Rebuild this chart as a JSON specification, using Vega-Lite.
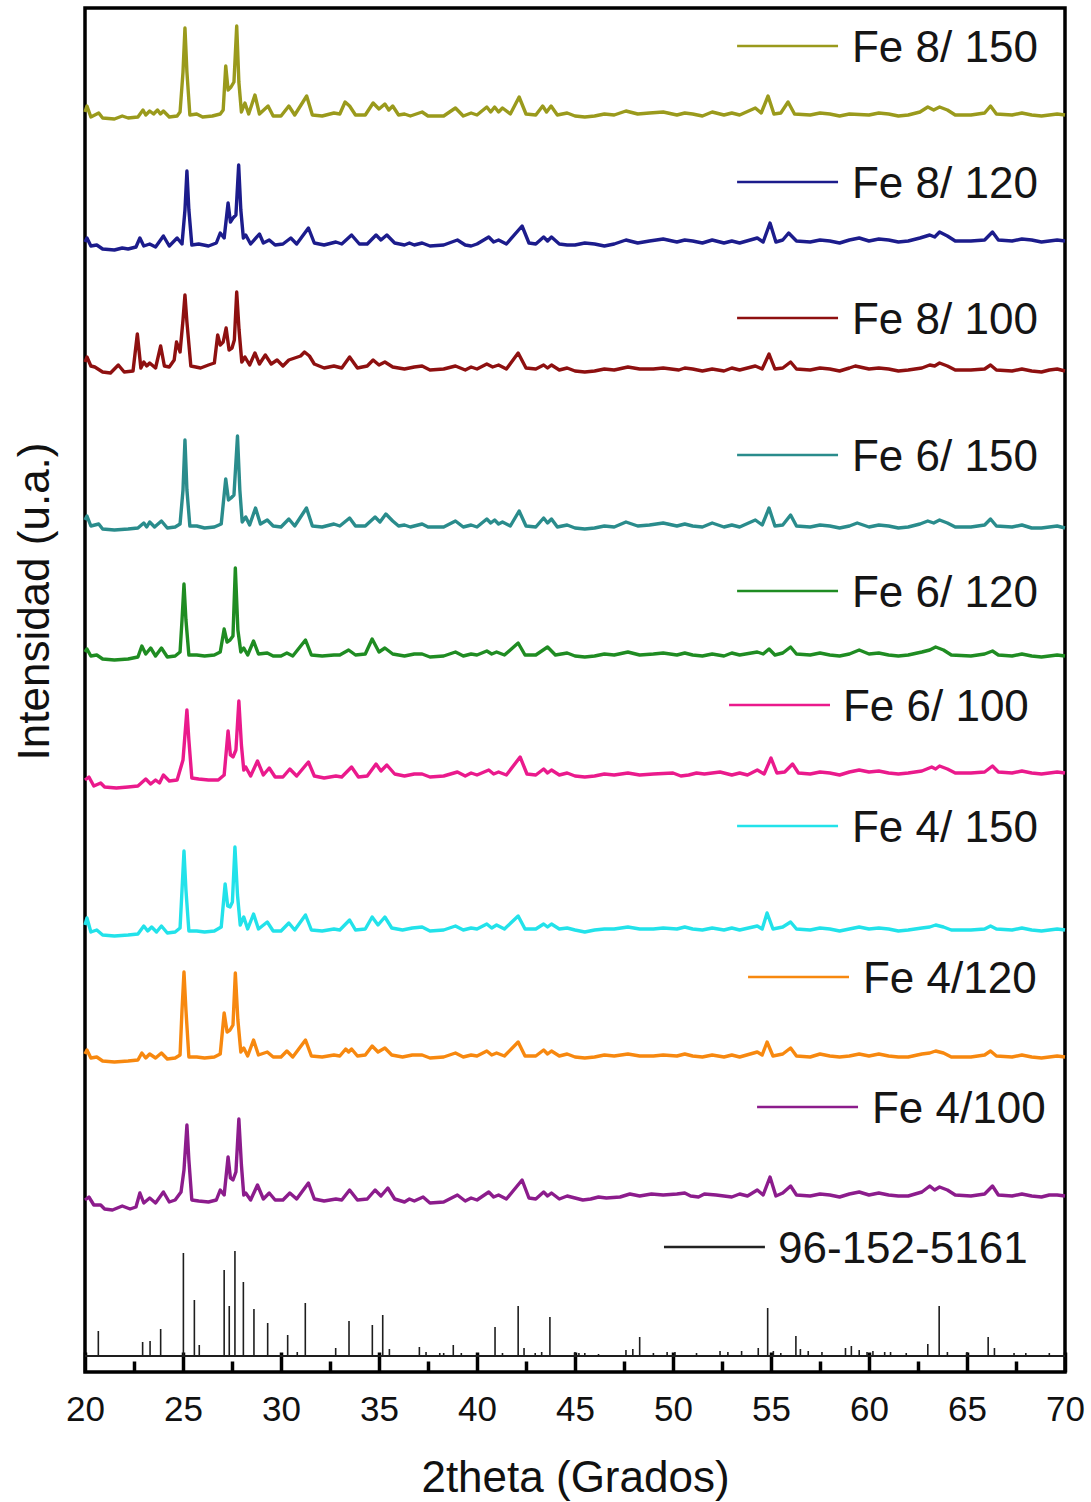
{
"$schema":"https://vega.github.io/schema/vega-lite/v6.json",
"width":980,"height":1364,
"autosize":{"type":"none"},
"padding":{"left":85,"top":8,"right":26,"bottom":130},
"background":"white",
"config":{"view":{"stroke":"#000","strokeWidth":3.5},"axis":{"grid":false,"domain":false,"labelFont":"Liberation Sans","titleFont":"Liberation Sans","tickColor":"#000","labelColor":"#111","titleColor":"#111"}},
"datasets":{
"tr":[
{"s":"a","x":20,"y":1260},{"s":"a","x":20.1,"y":1266},{"s":"a","x":20.3,"y":1255},{"s":"a","x":20.7,"y":1259},{"s":"a","x":20.9,"y":1254},{"s":"a","x":21.5,"y":1253},{"s":"a","x":22.2,"y":1254},{"s":"a","x":22.7,"y":1255},{"s":"a","x":22.96,"y":1262},{"s":"a","x":23.1,"y":1257},{"s":"a","x":23.3,"y":1261},{"s":"a","x":23.5,"y":1258},{"s":"a","x":23.7,"y":1262},{"s":"a","x":23.85,"y":1258},{"s":"a","x":24,"y":1261},{"s":"a","x":24.3,"y":1255},{"s":"a","x":24.7,"y":1256},{"s":"a","x":24.85,"y":1260},{"s":"a","x":25,"y":1300},{"s":"a","x":25.1,"y":1344},{"s":"a","x":25.2,"y":1300},{"s":"a","x":25.35,"y":1257},{"s":"a","x":25.7,"y":1258},{"s":"a","x":26,"y":1255},{"s":"a","x":26.5,"y":1256},{"s":"a","x":26.9,"y":1258},{"s":"a","x":27.05,"y":1262},{"s":"a","x":27.18,"y":1306},{"s":"a","x":27.3,"y":1282},{"s":"a","x":27.45,"y":1285},{"s":"a","x":27.6,"y":1290},{"s":"a","x":27.74,"y":1346},{"s":"a","x":27.85,"y":1290},{"s":"a","x":27.98,"y":1260},{"s":"a","x":28.16,"y":1269},{"s":"a","x":28.35,"y":1258},{"s":"a","x":28.67,"y":1277},{"s":"a","x":28.9,"y":1258},{"s":"a","x":29.34,"y":1266},{"s":"a","x":29.6,"y":1256},{"s":"a","x":30,"y":1256},{"s":"a","x":30.4,"y":1266},{"s":"a","x":30.7,"y":1257},{"s":"a","x":31.31,"y":1276},{"s":"a","x":31.6,"y":1257},{"s":"a","x":32.1,"y":1256},{"s":"a","x":32.7,"y":1259},{"s":"a","x":33,"y":1258},{"s":"a","x":33.27,"y":1270},{"s":"a","x":33.5,"y":1266},{"s":"a","x":33.8,"y":1257},{"s":"a","x":34.3,"y":1257},{"s":"a","x":34.7,"y":1269},{"s":"a","x":35,"y":1263},{"s":"a","x":35.3,"y":1268},{"s":"a","x":35.5,"y":1262},{"s":"a","x":35.7,"y":1266},{"s":"a","x":36,"y":1257},{"s":"a","x":36.6,"y":1256},{"s":"a","x":37.2,"y":1260},{"s":"a","x":37.5,"y":1256},{"s":"a","x":38.3,"y":1256},{"s":"a","x":38.9,"y":1264},{"s":"a","x":39.3,"y":1256},{"s":"a","x":40,"y":1257},{"s":"a","x":40.5,"y":1265},{"s":"a","x":40.7,"y":1260},{"s":"a","x":40.9,"y":1265},{"s":"a","x":41.1,"y":1260},{"s":"a","x":41.3,"y":1264},{"s":"a","x":41.7,"y":1258},{"s":"a","x":42.15,"y":1275},{"s":"a","x":42.5,"y":1258},{"s":"a","x":43,"y":1257},{"s":"a","x":43.35,"y":1266},{"s":"a","x":43.55,"y":1260},{"s":"a","x":43.78,"y":1266},{"s":"a","x":44.1,"y":1257},{"s":"a","x":45,"y":1256},{"s":"a","x":46,"y":1256},{"s":"a","x":47,"y":1257},{"s":"a","x":47.6,"y":1261},{"s":"a","x":48.2,"y":1258},{"s":"a","x":48.8,"y":1259},{"s":"a","x":49.5,"y":1260},{"s":"a","x":50.2,"y":1257},{"s":"a","x":51,"y":1258},{"s":"a","x":52,"y":1260},{"s":"a","x":52.6,"y":1257},{"s":"a","x":53.4,"y":1257},{"s":"a","x":54.2,"y":1264},{"s":"a","x":54.5,"y":1259},{"s":"a","x":54.85,"y":1276},{"s":"a","x":55.15,"y":1258},{"s":"a","x":55.5,"y":1259},{"s":"a","x":55.87,"y":1270},{"s":"a","x":56.2,"y":1258},{"s":"a","x":57,"y":1257},{"s":"a","x":58,"y":1258},{"s":"a","x":59,"y":1258},{"s":"a","x":60,"y":1257},{"s":"a","x":61,"y":1258},{"s":"a","x":62,"y":1257},{"s":"a","x":62.6,"y":1260},{"s":"a","x":63,"y":1265},{"s":"a","x":63.3,"y":1262},{"s":"a","x":63.6,"y":1265},{"s":"a","x":64,"y":1262},{"s":"a","x":64.4,"y":1257},{"s":"a","x":65.2,"y":1257},{"s":"a","x":65.9,"y":1259},{"s":"a","x":66.2,"y":1266},{"s":"a","x":66.5,"y":1258},{"s":"a","x":67.3,"y":1257},{"s":"a","x":68.3,"y":1257},{"s":"a","x":69.2,"y":1257},{"s":"a","x":70,"y":1257},
{"s":"a","x":44.6,"y":1259},{"s":"a","x":45.5,"y":1255},{"s":"a","x":46.5,"y":1258},{"s":"a","x":50.6,"y":1259},{"s":"a","x":51.5,"y":1256},{"s":"a","x":53,"y":1259},{"s":"a","x":57.5,"y":1259},{"s":"a","x":58.5,"y":1256},{"s":"a","x":60.5,"y":1259},{"s":"a","x":61.5,"y":1256},{"s":"a","x":67.8,"y":1259},{"s":"a","x":68.8,"y":1256},{"s":"a","x":69.6,"y":1258},{"s":"a","x":21.9,"y":1256},{"s":"a","x":36.3,"y":1258},{"s":"a","x":39.7,"y":1259},
{"s":"b","x":20,"y":1130},{"s":"b","x":20.1,"y":1134},{"s":"b","x":20.3,"y":1126},{"s":"b","x":20.6,"y":1127},{"s":"b","x":20.9,"y":1123},{"s":"b","x":21.5,"y":1122},{"s":"b","x":22.2,"y":1123},{"s":"b","x":22.6,"y":1125},{"s":"b","x":22.8,"y":1134},{"s":"b","x":23,"y":1126},{"s":"b","x":23.3,"y":1128},{"s":"b","x":23.6,"y":1125},{"s":"b","x":24,"y":1136},{"s":"b","x":24.3,"y":1126},{"s":"b","x":24.7,"y":1134},{"s":"b","x":24.95,"y":1128},{"s":"b","x":25.1,"y":1162},{"s":"b","x":25.2,"y":1201},{"s":"b","x":25.3,"y":1162},{"s":"b","x":25.45,"y":1127},{"s":"b","x":25.8,"y":1128},{"s":"b","x":26.3,"y":1126},{"s":"b","x":26.7,"y":1129},{"s":"b","x":26.9,"y":1139},{"s":"b","x":27.1,"y":1134},{"s":"b","x":27.3,"y":1169},{"s":"b","x":27.42,"y":1150},{"s":"b","x":27.55,"y":1154},{"s":"b","x":27.7,"y":1157},{"s":"b","x":27.84,"y":1207},{"s":"b","x":27.95,"y":1162},{"s":"b","x":28.08,"y":1134},{"s":"b","x":28.2,"y":1137},{"s":"b","x":28.45,"y":1128},{"s":"b","x":28.9,"y":1138},{"s":"b","x":29.1,"y":1129},{"s":"b","x":29.4,"y":1132},{"s":"b","x":29.7,"y":1127},{"s":"b","x":30.1,"y":1128},{"s":"b","x":30.5,"y":1134},{"s":"b","x":30.8,"y":1128},{"s":"b","x":31.4,"y":1144},{"s":"b","x":31.7,"y":1129},{"s":"b","x":32.2,"y":1127},{"s":"b","x":32.8,"y":1130},{"s":"b","x":33.1,"y":1128},{"s":"b","x":33.6,"y":1137},{"s":"b","x":34,"y":1128},{"s":"b","x":34.4,"y":1128},{"s":"b","x":34.85,"y":1137},{"s":"b","x":35.1,"y":1132},{"s":"b","x":35.4,"y":1137},{"s":"b","x":35.8,"y":1129},{"s":"b","x":36.3,"y":1127},{"s":"b","x":36.8,"y":1127},{"s":"b","x":37.2,"y":1129},{"s":"b","x":37.6,"y":1126},{"s":"b","x":38.3,"y":1127},{"s":"b","x":39,"y":1132},{"s":"b","x":39.4,"y":1127},{"s":"b","x":40,"y":1128},{"s":"b","x":40.6,"y":1135},{"s":"b","x":40.85,"y":1130},{"s":"b","x":41.1,"y":1132},{"s":"b","x":41.5,"y":1128},{"s":"b","x":42.3,"y":1146},{"s":"b","x":42.65,"y":1129},{"s":"b","x":43,"y":1128},{"s":"b","x":43.4,"y":1135},{"s":"b","x":43.6,"y":1131},{"s":"b","x":43.8,"y":1135},{"s":"b","x":44.2,"y":1128},{"s":"b","x":45,"y":1127},{"s":"b","x":46,"y":1128},{"s":"b","x":47,"y":1128},{"s":"b","x":47.6,"y":1132},{"s":"b","x":48.2,"y":1129},{"s":"b","x":48.8,"y":1131},{"s":"b","x":49.5,"y":1133},{"s":"b","x":50.2,"y":1130},{"s":"b","x":51,"y":1131},{"s":"b","x":52,"y":1132},{"s":"b","x":52.6,"y":1129},{"s":"b","x":53.4,"y":1129},{"s":"b","x":54.3,"y":1134},{"s":"b","x":54.6,"y":1130},{"s":"b","x":54.95,"y":1149},{"s":"b","x":55.25,"y":1130},{"s":"b","x":55.6,"y":1132},{"s":"b","x":55.9,"y":1139},{"s":"b","x":56.3,"y":1131},{"s":"b","x":57,"y":1130},{"s":"b","x":58,"y":1131},{"s":"b","x":59,"y":1132},{"s":"b","x":59.5,"y":1134},{"s":"b","x":60,"y":1131},{"s":"b","x":61,"y":1132},{"s":"b","x":62,"y":1131},{"s":"b","x":62.6,"y":1134},{"s":"b","x":63.1,"y":1137},{"s":"b","x":63.35,"y":1135},{"s":"b","x":63.6,"y":1140},{"s":"b","x":64,"y":1136},{"s":"b","x":64.4,"y":1131},{"s":"b","x":65.2,"y":1131},{"s":"b","x":65.9,"y":1132},{"s":"b","x":66.3,"y":1140},{"s":"b","x":66.6,"y":1132},{"s":"b","x":67.3,"y":1131},{"s":"b","x":68.3,"y":1132},{"s":"b","x":69.2,"y":1131},{"s":"b","x":70,"y":1131},
{"s":"b","x":44.6,"y":1127},{"s":"b","x":45.5,"y":1129},{"s":"b","x":46.5,"y":1126},{"s":"b","x":50.6,"y":1132},{"s":"b","x":51.5,"y":1129},{"s":"b","x":53,"y":1131},{"s":"b","x":57.5,"y":1132},{"s":"b","x":58.5,"y":1129},{"s":"b","x":60.5,"y":1133},{"s":"b","x":61.5,"y":1130},{"s":"b","x":67.8,"y":1133},{"s":"b","x":68.8,"y":1130},{"s":"b","x":69.6,"y":1132},{"s":"b","x":21.9,"y":1124},{"s":"b","x":36.55,"y":1129},{"s":"b","x":39.7,"y":1126},
{"s":"c","x":20,"y":1010},{"s":"c","x":20.1,"y":1015},{"s":"c","x":20.3,"y":1006},{"s":"c","x":20.5,"y":1005},{"s":"c","x":20.9,"y":1000},{"s":"c","x":21.3,"y":999},{"s":"c","x":21.7,"y":1007},{"s":"c","x":22,"y":1000},{"s":"c","x":22.45,"y":1001},{"s":"c","x":22.67,"y":1038},{"s":"c","x":22.85,"y":1004},{"s":"c","x":23,"y":1010},{"s":"c","x":23.15,"y":1006},{"s":"c","x":23.3,"y":1009},{"s":"c","x":23.6,"y":1004},{"s":"c","x":23.86,"y":1026},{"s":"c","x":24.05,"y":1006},{"s":"c","x":24.3,"y":1005},{"s":"c","x":24.55,"y":1012},{"s":"c","x":24.67,"y":1030},{"s":"c","x":24.85,"y":1020},{"s":"c","x":25,"y":1052},{"s":"c","x":25.1,"y":1077},{"s":"c","x":25.2,"y":1050},{"s":"c","x":25.4,"y":1006},{"s":"c","x":25.9,"y":1004},{"s":"c","x":26.3,"y":1007},{"s":"c","x":26.6,"y":1009},{"s":"c","x":26.77,"y":1037},{"s":"c","x":26.9,"y":1027},{"s":"c","x":27.05,"y":1030},{"s":"c","x":27.2,"y":1044},{"s":"c","x":27.35,"y":1022},{"s":"c","x":27.5,"y":1024},{"s":"c","x":27.62,"y":1032},{"s":"c","x":27.74,"y":1080},{"s":"c","x":27.86,"y":1042},{"s":"c","x":28,"y":1010},{"s":"c","x":28.16,"y":1015},{"s":"c","x":28.4,"y":1007},{"s":"c","x":28.67,"y":1019},{"s":"c","x":28.9,"y":1008},{"s":"c","x":29.2,"y":1017},{"s":"c","x":29.5,"y":1008},{"s":"c","x":29.8,"y":1012},{"s":"c","x":30.1,"y":1006},{"s":"c","x":30.4,"y":1012},{"s":"c","x":30.7,"y":1014},{"s":"c","x":31,"y":1016},{"s":"c","x":31.2,"y":1020},{"s":"c","x":31.45,"y":1016},{"s":"c","x":31.7,"y":1008},{"s":"c","x":32.2,"y":1004},{"s":"c","x":32.7,"y":1006},{"s":"c","x":33.1,"y":1004},{"s":"c","x":33.5,"y":1015},{"s":"c","x":33.9,"y":1004},{"s":"c","x":34.4,"y":1006},{"s":"c","x":34.7,"y":1012},{"s":"c","x":35,"y":1007},{"s":"c","x":35.3,"y":1010},{"s":"c","x":35.7,"y":1005},{"s":"c","x":36.3,"y":1003},{"s":"c","x":37.2,"y":1006},{"s":"c","x":37.6,"y":1002},{"s":"c","x":38.3,"y":1003},{"s":"c","x":38.9,"y":1006},{"s":"c","x":39.4,"y":1002},{"s":"c","x":40,"y":1003},{"s":"c","x":40.5,"y":1008},{"s":"c","x":40.8,"y":1005},{"s":"c","x":41.1,"y":1007},{"s":"c","x":41.5,"y":1003},{"s":"c","x":42.1,"y":1019},{"s":"c","x":42.5,"y":1004},{"s":"c","x":43,"y":1003},{"s":"c","x":43.4,"y":1007},{"s":"c","x":43.6,"y":1004},{"s":"c","x":43.8,"y":1007},{"s":"c","x":44.2,"y":1002},{"s":"c","x":45,"y":1001},{"s":"c","x":46,"y":1001},{"s":"c","x":47,"y":1002},{"s":"c","x":47.7,"y":1005},{"s":"c","x":48.3,"y":1003},{"s":"c","x":49,"y":1003},{"s":"c","x":49.5,"y":1004},{"s":"c","x":50.3,"y":1002},{"s":"c","x":51,"y":1003},{"s":"c","x":52,"y":1003},{"s":"c","x":52.6,"y":1001},{"s":"c","x":53.4,"y":1002},{"s":"c","x":54.2,"y":1006},{"s":"c","x":54.55,"y":1003},{"s":"c","x":54.9,"y":1018},{"s":"c","x":55.2,"y":1003},{"s":"c","x":55.6,"y":1004},{"s":"c","x":56,"y":1010},{"s":"c","x":56.3,"y":1003},{"s":"c","x":57,"y":1002},{"s":"c","x":58,"y":1003},{"s":"c","x":59,"y":1004},{"s":"c","x":59.3,"y":1006},{"s":"c","x":60,"y":1003},{"s":"c","x":61,"y":1003},{"s":"c","x":62,"y":1002},{"s":"c","x":62.7,"y":1004},{"s":"c","x":63.1,"y":1007},{"s":"c","x":63.35,"y":1006},{"s":"c","x":63.6,"y":1009},{"s":"c","x":64,"y":1006},{"s":"c","x":64.4,"y":1002},{"s":"c","x":65.2,"y":1002},{"s":"c","x":65.9,"y":1003},{"s":"c","x":66.2,"y":1007},{"s":"c","x":66.5,"y":1002},{"s":"c","x":67.3,"y":1001},{"s":"c","x":68.3,"y":1001},{"s":"c","x":69.2,"y":1002},{"s":"c","x":70,"y":1001},
{"s":"c","x":44.6,"y":1004},{"s":"c","x":45.5,"y":1000},{"s":"c","x":46.5,"y":1003},{"s":"c","x":50.6,"y":1004},{"s":"c","x":51.5,"y":1001},{"s":"c","x":53,"y":1004},{"s":"c","x":57.5,"y":1004},{"s":"c","x":58.5,"y":1001},{"s":"c","x":60.5,"y":1004},{"s":"c","x":61.5,"y":1001},{"s":"c","x":67.8,"y":1003},{"s":"c","x":68.8,"y":1000},{"s":"c","x":69.6,"y":1003},{"s":"c","x":36.8,"y":1005},{"s":"c","x":39.7,"y":1005},
{"s":"d","x":20,"y":852},{"s":"d","x":20.1,"y":856},{"s":"d","x":20.3,"y":846},{"s":"d","x":20.7,"y":848},{"s":"d","x":20.9,"y":843},{"s":"d","x":21.5,"y":842},{"s":"d","x":22.2,"y":843},{"s":"d","x":22.7,"y":844},{"s":"d","x":23,"y":849},{"s":"d","x":23.15,"y":845},{"s":"d","x":23.3,"y":850},{"s":"d","x":23.55,"y":845},{"s":"d","x":23.9,"y":851},{"s":"d","x":24.2,"y":844},{"s":"d","x":24.6,"y":845},{"s":"d","x":24.85,"y":848},{"s":"d","x":25,"y":882},{"s":"d","x":25.1,"y":932},{"s":"d","x":25.2,"y":882},{"s":"d","x":25.35,"y":846},{"s":"d","x":25.7,"y":846},{"s":"d","x":26.1,"y":844},{"s":"d","x":26.6,"y":845},{"s":"d","x":26.95,"y":848},{"s":"d","x":27.18,"y":893},{"s":"d","x":27.32,"y":872},{"s":"d","x":27.45,"y":874},{"s":"d","x":27.6,"y":877},{"s":"d","x":27.78,"y":936},{"s":"d","x":27.9,"y":882},{"s":"d","x":28.02,"y":850},{"s":"d","x":28.2,"y":855},{"s":"d","x":28.4,"y":847},{"s":"d","x":28.7,"y":864},{"s":"d","x":28.95,"y":848},{"s":"d","x":29.3,"y":852},{"s":"d","x":29.6,"y":846},{"s":"d","x":30,"y":845},{"s":"d","x":30.4,"y":853},{"s":"d","x":30.7,"y":846},{"s":"d","x":31.3,"y":864},{"s":"d","x":31.6,"y":846},{"s":"d","x":32.1,"y":845},{"s":"d","x":32.7,"y":848},{"s":"d","x":33,"y":846},{"s":"d","x":33.5,"y":854},{"s":"d","x":33.8,"y":846},{"s":"d","x":34.3,"y":846},{"s":"d","x":34.8,"y":855},{"s":"d","x":35.05,"y":850},{"s":"d","x":35.35,"y":858},{"s":"d","x":35.7,"y":851},{"s":"d","x":36,"y":846},{"s":"d","x":36.6,"y":845},{"s":"d","x":37.2,"y":848},{"s":"d","x":37.5,"y":845},{"s":"d","x":38.3,"y":845},{"s":"d","x":38.9,"y":851},{"s":"d","x":39.3,"y":845},{"s":"d","x":40,"y":845},{"s":"d","x":40.5,"y":853},{"s":"d","x":40.7,"y":849},{"s":"d","x":40.9,"y":852},{"s":"d","x":41.1,"y":848},{"s":"d","x":41.3,"y":850},{"s":"d","x":41.7,"y":846},{"s":"d","x":42.15,"y":861},{"s":"d","x":42.5,"y":846},{"s":"d","x":43,"y":845},{"s":"d","x":43.4,"y":854},{"s":"d","x":43.6,"y":849},{"s":"d","x":43.8,"y":853},{"s":"d","x":44.1,"y":845},{"s":"d","x":45,"y":844},{"s":"d","x":46,"y":844},{"s":"d","x":47,"y":845},{"s":"d","x":47.6,"y":850},{"s":"d","x":48.2,"y":846},{"s":"d","x":48.8,"y":847},{"s":"d","x":49.5,"y":849},{"s":"d","x":50.2,"y":846},{"s":"d","x":51,"y":846},{"s":"d","x":52,"y":849},{"s":"d","x":52.6,"y":845},{"s":"d","x":53.4,"y":845},{"s":"d","x":54.2,"y":852},{"s":"d","x":54.55,"y":847},{"s":"d","x":54.9,"y":864},{"s":"d","x":55.2,"y":846},{"s":"d","x":55.6,"y":847},{"s":"d","x":56,"y":857},{"s":"d","x":56.3,"y":846},{"s":"d","x":57,"y":845},{"s":"d","x":58,"y":846},{"s":"d","x":59,"y":846},{"s":"d","x":59.4,"y":849},{"s":"d","x":60,"y":845},{"s":"d","x":61,"y":846},{"s":"d","x":62,"y":845},{"s":"d","x":62.6,"y":848},{"s":"d","x":63,"y":851},{"s":"d","x":63.3,"y":849},{"s":"d","x":63.6,"y":852},{"s":"d","x":64,"y":849},{"s":"d","x":64.4,"y":845},{"s":"d","x":65.2,"y":845},{"s":"d","x":65.9,"y":847},{"s":"d","x":66.2,"y":853},{"s":"d","x":66.5,"y":846},{"s":"d","x":67.3,"y":845},{"s":"d","x":68.3,"y":844},{"s":"d","x":69.2,"y":845},{"s":"d","x":70,"y":844},
{"s":"d","x":44.6,"y":847},{"s":"d","x":45.5,"y":843},{"s":"d","x":46.5,"y":846},{"s":"d","x":50.6,"y":848},{"s":"d","x":51.5,"y":845},{"s":"d","x":53,"y":847},{"s":"d","x":57.5,"y":847},{"s":"d","x":58.5,"y":844},{"s":"d","x":60.5,"y":847},{"s":"d","x":61.5,"y":844},{"s":"d","x":67.8,"y":847},{"s":"d","x":68.8,"y":844},{"s":"d","x":69.6,"y":846},{"s":"d","x":39.7,"y":847},{"s":"d","x":36.3,"y":847},
{"s":"e","x":20,"y":720},{"s":"e","x":20.1,"y":723},{"s":"e","x":20.3,"y":716},{"s":"e","x":20.6,"y":717},{"s":"e","x":20.9,"y":713},{"s":"e","x":21.5,"y":712},{"s":"e","x":22.2,"y":713},{"s":"e","x":22.7,"y":715},{"s":"e","x":22.9,"y":726},{"s":"e","x":23.1,"y":718},{"s":"e","x":23.35,"y":724},{"s":"e","x":23.6,"y":716},{"s":"e","x":23.9,"y":724},{"s":"e","x":24.2,"y":715},{"s":"e","x":24.6,"y":716},{"s":"e","x":24.85,"y":720},{"s":"e","x":24.95,"y":752},{"s":"e","x":25.05,"y":788},{"s":"e","x":25.15,"y":752},{"s":"e","x":25.3,"y":717},{"s":"e","x":25.7,"y":717},{"s":"e","x":26.1,"y":716},{"s":"e","x":26.6,"y":717},{"s":"e","x":26.9,"y":720},{"s":"e","x":27.1,"y":743},{"s":"e","x":27.25,"y":730},{"s":"e","x":27.4,"y":732},{"s":"e","x":27.55,"y":736},{"s":"e","x":27.67,"y":804},{"s":"e","x":27.8,"y":742},{"s":"e","x":27.95,"y":720},{"s":"e","x":28.1,"y":724},{"s":"e","x":28.3,"y":717},{"s":"e","x":28.6,"y":731},{"s":"e","x":28.85,"y":718},{"s":"e","x":29.3,"y":719},{"s":"e","x":29.6,"y":716},{"s":"e","x":30,"y":716},{"s":"e","x":30.3,"y":719},{"s":"e","x":30.6,"y":716},{"s":"e","x":31.25,"y":732},{"s":"e","x":31.55,"y":717},{"s":"e","x":32.1,"y":716},{"s":"e","x":32.7,"y":717},{"s":"e","x":33,"y":717},{"s":"e","x":33.45,"y":722},{"s":"e","x":33.8,"y":717},{"s":"e","x":34.3,"y":718},{"s":"e","x":34.65,"y":733},{"s":"e","x":35,"y":720},{"s":"e","x":35.3,"y":724},{"s":"e","x":35.7,"y":718},{"s":"e","x":36.3,"y":716},{"s":"e","x":37.2,"y":718},{"s":"e","x":37.6,"y":715},{"s":"e","x":38.3,"y":716},{"s":"e","x":38.9,"y":720},{"s":"e","x":39.3,"y":716},{"s":"e","x":40,"y":717},{"s":"e","x":40.5,"y":721},{"s":"e","x":40.75,"y":718},{"s":"e","x":41,"y":720},{"s":"e","x":41.4,"y":717},{"s":"e","x":42.1,"y":729},{"s":"e","x":42.45,"y":717},{"s":"e","x":43,"y":717},{"s":"e","x":43.6,"y":725},{"s":"e","x":44,"y":717},{"s":"e","x":45,"y":716},{"s":"e","x":46,"y":716},{"s":"e","x":47,"y":717},{"s":"e","x":47.7,"y":720},{"s":"e","x":48.3,"y":717},{"s":"e","x":49,"y":718},{"s":"e","x":49.5,"y":719},{"s":"e","x":50.2,"y":717},{"s":"e","x":51,"y":717},{"s":"e","x":52,"y":718},{"s":"e","x":52.6,"y":716},{"s":"e","x":53.4,"y":717},{"s":"e","x":54.3,"y":720},{"s":"e","x":54.6,"y":718},{"s":"e","x":54.9,"y":723},{"s":"e","x":55.2,"y":717},{"s":"e","x":55.6,"y":719},{"s":"e","x":56,"y":725},{"s":"e","x":56.3,"y":718},{"s":"e","x":57,"y":717},{"s":"e","x":58,"y":717},{"s":"e","x":59,"y":718},{"s":"e","x":59.5,"y":722},{"s":"e","x":60,"y":718},{"s":"e","x":61,"y":717},{"s":"e","x":62,"y":717},{"s":"e","x":62.7,"y":720},{"s":"e","x":63.1,"y":722},{"s":"e","x":63.4,"y":725},{"s":"e","x":63.8,"y":722},{"s":"e","x":64.2,"y":717},{"s":"e","x":65.2,"y":716},{"s":"e","x":65.9,"y":718},{"s":"e","x":66.3,"y":721},{"s":"e","x":66.6,"y":717},{"s":"e","x":67.3,"y":716},{"s":"e","x":68.3,"y":716},{"s":"e","x":69.2,"y":716},{"s":"e","x":70,"y":716},
{"s":"e","x":44.6,"y":719},{"s":"e","x":45.5,"y":715},{"s":"e","x":46.5,"y":718},{"s":"e","x":50.6,"y":719},{"s":"e","x":51.5,"y":716},{"s":"e","x":53,"y":719},{"s":"e","x":57.5,"y":719},{"s":"e","x":58.5,"y":716},{"s":"e","x":60.5,"y":719},{"s":"e","x":61.5,"y":716},{"s":"e","x":67.8,"y":718},{"s":"e","x":68.8,"y":715},{"s":"e","x":69.6,"y":717},{"s":"e","x":39.7,"y":718},{"s":"e","x":36.8,"y":718},
{"s":"f","x":20,"y":592},{"s":"f","x":20.2,"y":595},{"s":"f","x":20.45,"y":586},{"s":"f","x":20.8,"y":589},{"s":"f","x":21,"y":585},{"s":"f","x":21.6,"y":584},{"s":"f","x":22.2,"y":585},{"s":"f","x":22.7,"y":586},{"s":"f","x":23.1,"y":593},{"s":"f","x":23.35,"y":588},{"s":"f","x":23.6,"y":592},{"s":"f","x":23.8,"y":589},{"s":"f","x":24,"y":597},{"s":"f","x":24.3,"y":591},{"s":"f","x":24.7,"y":592},{"s":"f","x":25,"y":612},{"s":"f","x":25.2,"y":662},{"s":"f","x":25.3,"y":632},{"s":"f","x":25.45,"y":594},{"s":"f","x":25.8,"y":593},{"s":"f","x":26.3,"y":592},{"s":"f","x":26.8,"y":592},{"s":"f","x":27.1,"y":597},{"s":"f","x":27.3,"y":641},{"s":"f","x":27.42,"y":617},{"s":"f","x":27.55,"y":615},{"s":"f","x":27.7,"y":622},{"s":"f","x":27.85,"y":671},{"s":"f","x":27.98,"y":627},{"s":"f","x":28.1,"y":602},{"s":"f","x":28.2,"y":605},{"s":"f","x":28.45,"y":596},{"s":"f","x":28.8,"y":611},{"s":"f","x":29.1,"y":597},{"s":"f","x":29.4,"y":604},{"s":"f","x":29.7,"y":595},{"s":"f","x":30.1,"y":595},{"s":"f","x":30.45,"y":603},{"s":"f","x":30.8,"y":596},{"s":"f","x":31.4,"y":610},{"s":"f","x":31.7,"y":596},{"s":"f","x":32.2,"y":594},{"s":"f","x":32.8,"y":596},{"s":"f","x":33.1,"y":595},{"s":"f","x":33.6,"y":605},{"s":"f","x":33.95,"y":595},{"s":"f","x":34.4,"y":596},{"s":"f","x":34.85,"y":608},{"s":"f","x":35.1,"y":601},{"s":"f","x":35.4,"y":607},{"s":"f","x":35.8,"y":598},{"s":"f","x":36.3,"y":596},{"s":"f","x":37.2,"y":598},{"s":"f","x":37.6,"y":595},{"s":"f","x":38.3,"y":596},{"s":"f","x":39,"y":600},{"s":"f","x":39.4,"y":596},{"s":"f","x":40,"y":597},{"s":"f","x":40.6,"y":602},{"s":"f","x":40.85,"y":598},{"s":"f","x":41.1,"y":600},{"s":"f","x":41.5,"y":597},{"s":"f","x":42.2,"y":615},{"s":"f","x":42.55,"y":598},{"s":"f","x":43,"y":597},{"s":"f","x":43.4,"y":603},{"s":"f","x":43.6,"y":599},{"s":"f","x":43.8,"y":602},{"s":"f","x":44.2,"y":597},{"s":"f","x":45,"y":596},{"s":"f","x":46,"y":596},{"s":"f","x":47,"y":597},{"s":"f","x":47.7,"y":599},{"s":"f","x":48.3,"y":597},{"s":"f","x":49,"y":598},{"s":"f","x":50,"y":599},{"s":"f","x":50.8,"y":597},{"s":"f","x":51.6,"y":598},{"s":"f","x":52.4,"y":600},{"s":"f","x":53,"y":597},{"s":"f","x":53.8,"y":597},{"s":"f","x":54.3,"y":602},{"s":"f","x":54.65,"y":598},{"s":"f","x":55,"y":614},{"s":"f","x":55.3,"y":599},{"s":"f","x":55.7,"y":600},{"s":"f","x":56.1,"y":608},{"s":"f","x":56.4,"y":599},{"s":"f","x":57,"y":598},{"s":"f","x":58,"y":599},{"s":"f","x":59,"y":600},{"s":"f","x":59.5,"y":602},{"s":"f","x":60,"y":600},{"s":"f","x":61,"y":599},{"s":"f","x":62,"y":599},{"s":"f","x":62.7,"y":601},{"s":"f","x":63.2,"y":605},{"s":"f","x":63.4,"y":603},{"s":"f","x":63.6,"y":606},{"s":"f","x":64,"y":603},{"s":"f","x":64.4,"y":599},{"s":"f","x":65.2,"y":599},{"s":"f","x":65.9,"y":600},{"s":"f","x":66.3,"y":606},{"s":"f","x":66.6,"y":600},{"s":"f","x":67.3,"y":599},{"s":"f","x":68.3,"y":599},{"s":"f","x":69.2,"y":599},{"s":"f","x":70,"y":599},
{"s":"f","x":44.6,"y":599},{"s":"f","x":45.5,"y":595},{"s":"f","x":46.5,"y":598},{"s":"f","x":50.4,"y":596},{"s":"f","x":51.2,"y":599},{"s":"f","x":53.4,"y":599},{"s":"f","x":57.5,"y":600},{"s":"f","x":58.5,"y":597},{"s":"f","x":60.5,"y":601},{"s":"f","x":61.5,"y":598},{"s":"f","x":67.8,"y":601},{"s":"f","x":68.8,"y":598},{"s":"f","x":69.6,"y":600},{"s":"f","x":39.7,"y":599},{"s":"f","x":36.8,"y":598},
{"s":"g","x":20,"y":447},{"s":"g","x":20.1,"y":454},{"s":"g","x":20.3,"y":440},{"s":"g","x":20.6,"y":442},{"s":"g","x":20.9,"y":437},{"s":"g","x":21.5,"y":436},{"s":"g","x":22.2,"y":437},{"s":"g","x":22.7,"y":438},{"s":"g","x":23,"y":446},{"s":"g","x":23.2,"y":441},{"s":"g","x":23.4,"y":445},{"s":"g","x":23.65,"y":440},{"s":"g","x":23.9,"y":446},{"s":"g","x":24.2,"y":439},{"s":"g","x":24.6,"y":440},{"s":"g","x":24.85,"y":444},{"s":"g","x":24.95,"y":482},{"s":"g","x":25.05,"y":521},{"s":"g","x":25.15,"y":482},{"s":"g","x":25.3,"y":441},{"s":"g","x":25.7,"y":441},{"s":"g","x":26.1,"y":440},{"s":"g","x":26.6,"y":441},{"s":"g","x":26.95,"y":445},{"s":"g","x":27.15,"y":488},{"s":"g","x":27.28,"y":466},{"s":"g","x":27.4,"y":465},{"s":"g","x":27.52,"y":470},{"s":"g","x":27.65,"y":525},{"s":"g","x":27.78,"y":477},{"s":"g","x":27.92,"y":447},{"s":"g","x":28.1,"y":455},{"s":"g","x":28.3,"y":443},{"s":"g","x":28.6,"y":458},{"s":"g","x":28.85,"y":443},{"s":"g","x":29.3,"y":450},{"s":"g","x":29.6,"y":441},{"s":"g","x":30,"y":441},{"s":"g","x":30.4,"y":449},{"s":"g","x":30.7,"y":442},{"s":"g","x":31.25,"y":457},{"s":"g","x":31.55,"y":442},{"s":"g","x":32.1,"y":441},{"s":"g","x":32.7,"y":443},{"s":"g","x":33,"y":442},{"s":"g","x":33.5,"y":452},{"s":"g","x":33.8,"y":442},{"s":"g","x":34.3,"y":443},{"s":"g","x":34.65,"y":455},{"s":"g","x":34.95,"y":447},{"s":"g","x":35.3,"y":455},{"s":"g","x":35.65,"y":444},{"s":"g","x":36.2,"y":442},{"s":"g","x":37.2,"y":445},{"s":"g","x":37.6,"y":441},{"s":"g","x":38.3,"y":442},{"s":"g","x":38.9,"y":446},{"s":"g","x":39.3,"y":442},{"s":"g","x":40,"y":443},{"s":"g","x":40.5,"y":448},{"s":"g","x":40.75,"y":444},{"s":"g","x":41,"y":447},{"s":"g","x":41.4,"y":443},{"s":"g","x":42.1,"y":456},{"s":"g","x":42.45,"y":443},{"s":"g","x":43,"y":443},{"s":"g","x":43.4,"y":448},{"s":"g","x":43.6,"y":445},{"s":"g","x":43.8,"y":448},{"s":"g","x":44.2,"y":443},{"s":"g","x":45,"y":442},{"s":"g","x":46,"y":442},{"s":"g","x":47,"y":443},{"s":"g","x":47.7,"y":445},{"s":"g","x":48.3,"y":443},{"s":"g","x":49,"y":443},{"s":"g","x":49.5,"y":444},{"s":"g","x":50.2,"y":443},{"s":"g","x":51,"y":443},{"s":"g","x":52,"y":444},{"s":"g","x":52.6,"y":442},{"s":"g","x":53.4,"y":442},{"s":"g","x":54.3,"y":446},{"s":"g","x":54.55,"y":443},{"s":"g","x":54.8,"y":459},{"s":"g","x":55.1,"y":443},{"s":"g","x":55.6,"y":445},{"s":"g","x":56,"y":450},{"s":"g","x":56.3,"y":443},{"s":"g","x":57,"y":442},{"s":"g","x":58,"y":443},{"s":"g","x":59,"y":443},{"s":"g","x":59.5,"y":445},{"s":"g","x":60,"y":443},{"s":"g","x":61,"y":443},{"s":"g","x":62,"y":442},{"s":"g","x":62.7,"y":444},{"s":"g","x":63.1,"y":445},{"s":"g","x":63.4,"y":447},{"s":"g","x":63.8,"y":445},{"s":"g","x":64.2,"y":442},{"s":"g","x":65.2,"y":442},{"s":"g","x":65.9,"y":443},{"s":"g","x":66.2,"y":446},{"s":"g","x":66.5,"y":443},{"s":"g","x":67.3,"y":442},{"s":"g","x":68.3,"y":442},{"s":"g","x":69.2,"y":442},{"s":"g","x":70,"y":442},
{"s":"g","x":44.6,"y":444},{"s":"g","x":45.5,"y":440},{"s":"g","x":46.5,"y":443},{"s":"g","x":50.6,"y":445},{"s":"g","x":51.5,"y":442},{"s":"g","x":53,"y":444},{"s":"g","x":57.5,"y":444},{"s":"g","x":58.5,"y":441},{"s":"g","x":60.5,"y":444},{"s":"g","x":61.5,"y":441},{"s":"g","x":67.8,"y":444},{"s":"g","x":68.8,"y":441},{"s":"g","x":69.6,"y":443},{"s":"g","x":39.7,"y":444},{"s":"g","x":36.7,"y":444},
{"s":"h","x":20,"y":318},{"s":"h","x":20.1,"y":322},{"s":"h","x":20.3,"y":314},{"s":"h","x":20.6,"y":315},{"s":"h","x":20.9,"y":311},{"s":"h","x":21.5,"y":310},{"s":"h","x":22.2,"y":311},{"s":"h","x":22.7,"y":312},{"s":"h","x":22.9,"y":319},{"s":"h","x":23.1,"y":314},{"s":"h","x":23.3,"y":318},{"s":"h","x":23.6,"y":314},{"s":"h","x":23.9,"y":319},{"s":"h","x":24.2,"y":313},{"s":"h","x":24.6,"y":314},{"s":"h","x":24.85,"y":317},{"s":"h","x":24.95,"y":362},{"s":"h","x":25.05,"y":400},{"s":"h","x":25.15,"y":362},{"s":"h","x":25.3,"y":315},{"s":"h","x":25.7,"y":315},{"s":"h","x":26.1,"y":314},{"s":"h","x":26.6,"y":315},{"s":"h","x":26.9,"y":318},{"s":"h","x":27.1,"y":359},{"s":"h","x":27.25,"y":340},{"s":"h","x":27.4,"y":342},{"s":"h","x":27.55,"y":347},{"s":"h","x":27.67,"y":399},{"s":"h","x":27.8,"y":352},{"s":"h","x":27.95,"y":320},{"s":"h","x":28.1,"y":324},{"s":"h","x":28.3,"y":316},{"s":"h","x":28.6,"y":332},{"s":"h","x":28.85,"y":317},{"s":"h","x":29.3,"y":320},{"s":"h","x":29.6,"y":315},{"s":"h","x":30,"y":315},{"s":"h","x":30.3,"y":321},{"s":"h","x":30.6,"y":315},{"s":"h","x":31.25,"y":332},{"s":"h","x":31.55,"y":316},{"s":"h","x":32.1,"y":315},{"s":"h","x":32.7,"y":317},{"s":"h","x":33,"y":316},{"s":"h","x":33.3,"y":323},{"s":"h","x":33.45,"y":320},{"s":"h","x":33.6,"y":323},{"s":"h","x":33.9,"y":316},{"s":"h","x":34.3,"y":317},{"s":"h","x":34.65,"y":326},{"s":"h","x":34.95,"y":320},{"s":"h","x":35.3,"y":324},{"s":"h","x":35.65,"y":317},{"s":"h","x":36.2,"y":315},{"s":"h","x":37.2,"y":317},{"s":"h","x":37.6,"y":314},{"s":"h","x":38.3,"y":315},{"s":"h","x":38.9,"y":319},{"s":"h","x":39.3,"y":315},{"s":"h","x":40,"y":316},{"s":"h","x":40.5,"y":321},{"s":"h","x":40.75,"y":317},{"s":"h","x":41,"y":319},{"s":"h","x":41.4,"y":316},{"s":"h","x":42.1,"y":330},{"s":"h","x":42.45,"y":316},{"s":"h","x":43,"y":316},{"s":"h","x":43.4,"y":322},{"s":"h","x":43.6,"y":318},{"s":"h","x":43.8,"y":321},{"s":"h","x":44.2,"y":316},{"s":"h","x":45,"y":315},{"s":"h","x":46,"y":315},{"s":"h","x":47,"y":316},{"s":"h","x":47.7,"y":318},{"s":"h","x":48.3,"y":316},{"s":"h","x":49,"y":316},{"s":"h","x":49.5,"y":317},{"s":"h","x":50.2,"y":316},{"s":"h","x":51,"y":316},{"s":"h","x":52,"y":317},{"s":"h","x":52.6,"y":315},{"s":"h","x":53.4,"y":315},{"s":"h","x":54.3,"y":320},{"s":"h","x":54.55,"y":317},{"s":"h","x":54.8,"y":330},{"s":"h","x":55.1,"y":316},{"s":"h","x":55.6,"y":318},{"s":"h","x":56,"y":324},{"s":"h","x":56.3,"y":316},{"s":"h","x":57,"y":315},{"s":"h","x":58,"y":316},{"s":"h","x":59,"y":316},{"s":"h","x":59.5,"y":318},{"s":"h","x":60,"y":316},{"s":"h","x":61,"y":316},{"s":"h","x":62,"y":315},{"s":"h","x":62.7,"y":318},{"s":"h","x":63.1,"y":319},{"s":"h","x":63.4,"y":321},{"s":"h","x":63.8,"y":319},{"s":"h","x":64.2,"y":315},{"s":"h","x":65.2,"y":315},{"s":"h","x":65.9,"y":317},{"s":"h","x":66.2,"y":321},{"s":"h","x":66.5,"y":316},{"s":"h","x":67.3,"y":315},{"s":"h","x":68.3,"y":315},{"s":"h","x":69.2,"y":315},{"s":"h","x":70,"y":315},
{"s":"h","x":44.6,"y":318},{"s":"h","x":45.5,"y":314},{"s":"h","x":46.5,"y":317},{"s":"h","x":50.6,"y":318},{"s":"h","x":51.5,"y":315},{"s":"h","x":53,"y":317},{"s":"h","x":57.5,"y":318},{"s":"h","x":58.5,"y":315},{"s":"h","x":60.5,"y":318},{"s":"h","x":61.5,"y":315},{"s":"h","x":67.8,"y":317},{"s":"h","x":68.8,"y":314},{"s":"h","x":69.6,"y":316},{"s":"h","x":39.7,"y":317},{"s":"h","x":36.7,"y":317},
{"s":"i","x":20,"y":172},{"s":"i","x":20.2,"y":175},{"s":"i","x":20.45,"y":167},{"s":"i","x":20.8,"y":167},{"s":"i","x":21,"y":163},{"s":"i","x":21.4,"y":162},{"s":"i","x":21.9,"y":166},{"s":"i","x":22.3,"y":163},{"s":"i","x":22.6,"y":165},{"s":"i","x":22.8,"y":179},{"s":"i","x":23,"y":169},{"s":"i","x":23.3,"y":174},{"s":"i","x":23.6,"y":169},{"s":"i","x":24,"y":180},{"s":"i","x":24.3,"y":170},{"s":"i","x":24.6,"y":172},{"s":"i","x":24.9,"y":180},{"s":"i","x":25.05,"y":202},{"s":"i","x":25.2,"y":247},{"s":"i","x":25.3,"y":212},{"s":"i","x":25.45,"y":172},{"s":"i","x":25.8,"y":171},{"s":"i","x":26.3,"y":170},{"s":"i","x":26.7,"y":172},{"s":"i","x":26.9,"y":182},{"s":"i","x":27.1,"y":177},{"s":"i","x":27.3,"y":215},{"s":"i","x":27.42,"y":194},{"s":"i","x":27.55,"y":192},{"s":"i","x":27.7,"y":200},{"s":"i","x":27.85,"y":253},{"s":"i","x":27.98,"y":207},{"s":"i","x":28.1,"y":177},{"s":"i","x":28.2,"y":179},{"s":"i","x":28.45,"y":172},{"s":"i","x":28.8,"y":187},{"s":"i","x":29.1,"y":173},{"s":"i","x":29.4,"y":179},{"s":"i","x":29.7,"y":172},{"s":"i","x":30.1,"y":172},{"s":"i","x":30.45,"y":179},{"s":"i","x":30.8,"y":173},{"s":"i","x":31.4,"y":189},{"s":"i","x":31.7,"y":173},{"s":"i","x":32.2,"y":171},{"s":"i","x":32.8,"y":173},{"s":"i","x":33.1,"y":172},{"s":"i","x":33.5,"y":182},{"s":"i","x":33.9,"y":172},{"s":"i","x":34.4,"y":173},{"s":"i","x":34.8,"y":182},{"s":"i","x":35.1,"y":176},{"s":"i","x":35.45,"y":184},{"s":"i","x":35.8,"y":173},{"s":"i","x":36.3,"y":170},{"s":"i","x":36.8,"y":171},{"s":"i","x":37.25,"y":175},{"s":"i","x":37.6,"y":169},{"s":"i","x":38.3,"y":170},{"s":"i","x":39,"y":177},{"s":"i","x":39.4,"y":171},{"s":"i","x":40,"y":172},{"s":"i","x":40.6,"y":180},{"s":"i","x":40.85,"y":175},{"s":"i","x":41.1,"y":177},{"s":"i","x":41.5,"y":173},{"s":"i","x":42.3,"y":192},{"s":"i","x":42.65,"y":174},{"s":"i","x":43,"y":173},{"s":"i","x":43.4,"y":180},{"s":"i","x":43.6,"y":176},{"s":"i","x":43.8,"y":179},{"s":"i","x":44.2,"y":173},{"s":"i","x":45,"y":174},{"s":"i","x":45.8,"y":173},{"s":"i","x":46.6,"y":174},{"s":"i","x":47.3,"y":175},{"s":"i","x":47.8,"y":178},{"s":"i","x":48.3,"y":176},{"s":"i","x":48.9,"y":178},{"s":"i","x":49.5,"y":177},{"s":"i","x":50.2,"y":178},{"s":"i","x":50.9,"y":176},{"s":"i","x":51.6,"y":178},{"s":"i","x":52.2,"y":177},{"s":"i","x":53,"y":175},{"s":"i","x":53.8,"y":176},{"s":"i","x":54.3,"y":182},{"s":"i","x":54.6,"y":177},{"s":"i","x":54.95,"y":195},{"s":"i","x":55.25,"y":176},{"s":"i","x":55.6,"y":179},{"s":"i","x":56,"y":186},{"s":"i","x":56.3,"y":177},{"s":"i","x":57,"y":176},{"s":"i","x":58,"y":177},{"s":"i","x":59,"y":178},{"s":"i","x":59.5,"y":180},{"s":"i","x":60,"y":177},{"s":"i","x":61,"y":177},{"s":"i","x":62,"y":176},{"s":"i","x":62.7,"y":180},{"s":"i","x":63.1,"y":186},{"s":"i","x":63.35,"y":182},{"s":"i","x":63.6,"y":185},{"s":"i","x":64,"y":182},{"s":"i","x":64.4,"y":177},{"s":"i","x":65.2,"y":176},{"s":"i","x":65.9,"y":178},{"s":"i","x":66.3,"y":186},{"s":"i","x":66.6,"y":177},{"s":"i","x":67.3,"y":176},{"s":"i","x":68.3,"y":176},{"s":"i","x":69.2,"y":177},{"s":"i","x":70,"y":176},
{"s":"i","x":44.6,"y":176},{"s":"i","x":45.4,"y":172},{"s":"i","x":46.2,"y":175},{"s":"i","x":50.6,"y":179},{"s":"i","x":51.3,"y":175},{"s":"i","x":53.4,"y":178},{"s":"i","x":57.5,"y":178},{"s":"i","x":58.5,"y":175},{"s":"i","x":60.5,"y":179},{"s":"i","x":61.5,"y":176},{"s":"i","x":67.8,"y":178},{"s":"i","x":68.8,"y":175},{"s":"i","x":69.6,"y":177},{"s":"i","x":39.7,"y":174},{"s":"i","x":36.55,"y":173}
],
"st":[
{"x":20.68,"h":41},{"x":22.94,"h":30},{"x":23.32,"h":31},{"x":23.86,"h":43},{"x":25.02,"h":119},{"x":25.58,"h":72},{"x":25.83,"h":27},{"x":27.1,"h":102},{"x":27.36,"h":66},{"x":27.65,"h":121},{"x":28.08,"h":90},{"x":28.62,"h":63},{"x":29.32,"h":49},{"x":30.34,"h":37},{"x":30.83,"h":20},{"x":31.24,"h":69},{"x":32.79,"h":24},{"x":33.47,"h":51},{"x":34.66,"h":47},{"x":35.19,"h":57},{"x":35.53,"h":23},{"x":37.06,"h":25},{"x":37.4,"h":20},{"x":38.1,"h":19},{"x":38.3,"h":19},{"x":38.79,"h":27},{"x":39.2,"h":19},{"x":40.92,"h":45},{"x":41.3,"h":19},{"x":42.1,"h":66},{"x":42.4,"h":24},{"x":42.97,"h":19},{"x":43.3,"h":20},{"x":43.72,"h":55},{"x":45,"h":20},{"x":45.2,"h":19},{"x":45.5,"h":19},{"x":46.2,"h":18},{"x":47.6,"h":22},{"x":47.95,"h":23},{"x":48.3,"h":35},{"x":49,"h":19},{"x":49.7,"h":20},{"x":50.1,"h":20},{"x":51.2,"h":19},{"x":52.4,"h":21},{"x":52.8,"h":20},{"x":53.5,"h":21},{"x":54.35,"h":24},{"x":54.83,"h":64},{"x":55.12,"h":21},{"x":55.5,"h":19},{"x":56.27,"h":36},{"x":56.5,"h":23},{"x":56.9,"h":21},{"x":57.6,"h":20},{"x":58.8,"h":24},{"x":59.1,"h":26},{"x":59.5,"h":22},{"x":59.9,"h":20},{"x":60.2,"h":21},{"x":60.8,"h":20},{"x":61.1,"h":20},{"x":61.9,"h":19},{"x":63,"h":28},{"x":63.58,"h":66},{"x":64,"h":20},{"x":65,"h":20},{"x":66.08,"h":35},{"x":66.4,"h":24},{"x":67.4,"h":19},{"x":68,"h":19},{"x":69.2,"h":19}
],
"lg":[
{"s":"a","lab":"Fe 8/ 150","x1":53.27,"x2":58.42,"xt":59.13,"y":1326},
{"s":"b","lab":"Fe 8/ 120","x1":53.27,"x2":58.42,"xt":59.13,"y":1190},
{"s":"c","lab":"Fe 8/ 100","x1":53.27,"x2":58.42,"xt":59.13,"y":1054},
{"s":"d","lab":"Fe 6/ 150","x1":53.27,"x2":58.42,"xt":59.13,"y":917},
{"s":"e","lab":"Fe 6/ 120","x1":53.27,"x2":58.42,"xt":59.13,"y":781},
{"s":"f","lab":"Fe 6/ 100","x1":52.86,"x2":58.01,"xt":58.67,"y":667},
{"s":"g","lab":"Fe 4/ 150","x1":53.27,"x2":58.42,"xt":59.13,"y":546},
{"s":"h","lab":"Fe 4/120","x1":53.83,"x2":58.98,"xt":59.69,"y":395},
{"s":"i","lab":"Fe 4/100","x1":54.29,"x2":59.44,"xt":60.15,"y":265},
{"s":"r","lab":"96-152-5161","x1":49.54,"x2":54.69,"xt":55.36,"y":125}
]
},
"resolve":{"axis":{"x":"independent","y":"independent"}},
"layer":[
{"data":{"name":"tr"},
 "mark":{"type":"line","strokeWidth":3.4,"strokeJoin":"round"},
 "encoding":{
  "x":{"field":"x","type":"quantitative","scale":{"domain":[20,70],"nice":false,"zero":false},
       "axis":{"orient":"bottom","values":[20,25,30,35,40,45,50,55,60,65,70],"ticks":false,"labelFontSize":35,"labelBaseline":"alphabetic","labelPadding":48,"labelFlush":false,"labelOverlap":false,"title":"2theta (Grados)","titleFontSize":44,"titleFontWeight":"normal","titleBaseline":"alphabetic","titleY":119}},
  "y":{"field":"y","type":"quantitative","scale":{"domain":[0,1364],"nice":false,"zero":false},
       "axis":{"orient":"left","labels":false,"ticks":false,"title":"Intensidad (u.a.)","titleFontSize":44,"titleFontWeight":"normal","titleAngle":-90,"titleAlign":"center","titleBaseline":"alphabetic","titleX":-37,"titleY":593}},
  "color":{"field":"s","type":"nominal","legend":null,
       "scale":{"domain":["a","b","c","d","e","f","g","h","i","r"],"range":["#9a9a1c","#1c1c8c","#8e1010","#2a8c8c","#1f8c22","#ea1a8c","#22e2ea","#f7880f","#8c1c8c","#222222"]}}
 }},
{"data":{"name":"st"},
 "mark":{"type":"rule","strokeWidth":1.6,"color":"#1e1e1e"},
 "encoding":{
  "x":{"field":"x","type":"quantitative","axis":{"orient":"bottom","values":[20,25,30,35,40,45,50,55,60,65,70],"labels":false,"title":null,"tickSize":-20,"tickWidth":3.5}},
  "y":{"field":"h","type":"quantitative","axis":null},
  "y2":{"datum":16}
 }},
{"data":{"values":[{"k":1}]},
 "mark":{"type":"rule","strokeWidth":1.8,"color":"#1e1e1e"},
 "encoding":{
  "x":{"datum":20,"type":"quantitative","axis":{"orient":"bottom","values":[22.5,27.5,32.5,37.5,42.5,47.5,52.5,57.5,62.5,67.5],"labels":false,"title":null,"tickSize":-11,"tickWidth":3.5}},
  "x2":{"datum":70},
  "y":{"datum":16,"type":"quantitative","axis":null}
 }},
{"data":{"name":"lg"},
 "mark":{"type":"rule","strokeWidth":2.5},
 "encoding":{
  "x":{"field":"x1","type":"quantitative","axis":null},
  "x2":{"field":"x2"},
  "y":{"field":"y","type":"quantitative","axis":null},
  "color":{"field":"s","type":"nominal","legend":null}
 }},
{"data":{"name":"lg"},
 "mark":{"type":"text","align":"left","baseline":"alphabetic","dy":16,"fontSize":44,"font":"Liberation Sans","color":"#151515"},
 "encoding":{
  "x":{"field":"xt","type":"quantitative","axis":null},
  "y":{"field":"y","type":"quantitative","axis":null},
  "text":{"field":"lab"}
 }}
]
}
